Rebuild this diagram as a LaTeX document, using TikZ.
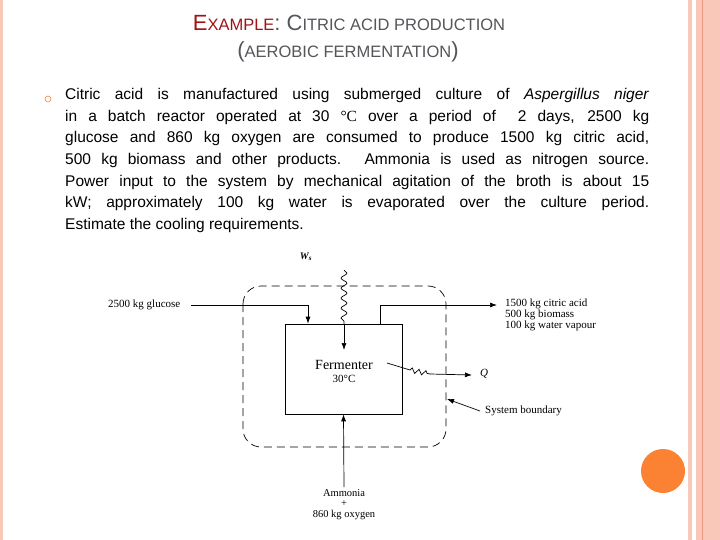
\documentclass[tikz,border=0pt]{standalone}
\usepackage{fontspec}
\setmainfont{Liberation Sans}
\newfontfamily\ser{Liberation Serif}
\usetikzlibrary{arrows.meta,decorations.pathmorphing}
\definecolor{pinkb}{RGB}{250,200,185}
\definecolor{pinkd}{RGB}{235,150,125}
\definecolor{darkred}{RGB}{160,20,20}
\definecolor{titleg}{RGB}{85,85,90}
\definecolor{orng}{RGB}{250,130,50}
\tikzset{
  lbl/.style={font=\ser\fontsize{11}{11.5}\selectfont, inner sep=0pt},
  flow/.style={line width=0.7pt,-{Latex[length=7pt,width=5pt]}},
  plain/.style={line width=0.7pt},
}
\begin{document}
\begin{tikzpicture}[x=1pt,y=-1pt]
\useasboundingbox (0,0) rectangle (720,540);
\fill[white] (0,0) rectangle (720,540);
% slide frame
\fill[pinkb] (0,0) rectangle (3,540);
\fill[pinkb] (688,0) rectangle (692,540);
\fill[pinkb] (696,0) rectangle (720,540);
\draw[pinkd,line width=0.8pt] (702,0) -- (702,540);
\fill[orng] (663,471) circle (22);
% title
\node[font=\fontsize{22}{26}\selectfont, inner sep=0pt] (t1) at (349,23) {\textcolor{darkred}{E\fontsize{16.5}{20}\selectfont XAMPLE}\textcolor{titleg}{: C\fontsize{16.5}{20}\selectfont ITRIC ACID PRODUCTION}};
\node[font=\fontsize{22}{26}\selectfont, inner sep=0pt, text=titleg] (t2) at (348,52) {(\fontsize{16.5}{20}\selectfont AEROBIC FERMENTATION\fontsize{22}{26}\selectfont)};
% bullet
\draw[orng,line width=0.6pt] (48,99) circle (3);
\node[anchor=north west, text width=584pt, align=justify, inner sep=0pt, font=\fontsize{15.5}{21.7}\selectfont] (para) at (65,88)
{Citric acid is manufactured using submerged culture of \textit{Aspergillus niger}\linebreak in a batch reactor operated at 30 {\ser °C} over a period of~ 2 days, 2500 kg\linebreak glucose and 860 kg oxygen are consumed to produce 1500 kg citric acid,\linebreak 500 kg biomass and other products. Ammonia is used as nitrogen source.\linebreak Power input to the system by mechanical agitation of the broth is about 15\linebreak kW; approximately 100 kg water is evaporated over the culture period.\linebreak Estimate the cooling requirements.};
% diagram
\draw[plain,dashed,dash pattern=on 8pt off 5pt,rounded corners=18pt] (243,286) rectangle (446,447);
\node[draw,line width=0.7pt,minimum width=117pt,minimum height=90pt,inner sep=0pt] (ferm) at (343.5,369) {};
\node[lbl,font=\ser\fontsize{14}{15}\selectfont] (fl) at (344,365) {Fermenter};
\node[lbl] (ft) at (344,379) {30°C};
\node[lbl,anchor=west] (glu) at (108,305) {2500 kg glucose};
\coordinate (g1) at (191,305);
\coordinate (g2) at (308,305);
\draw[flow] (g1) -- (g2) -- (g2 |- ferm.north);
\coordinate (o1) at (380,324);
\coordinate (o2) at (380,305);
\coordinate (o3) at (497,305);
\draw[flow] (o1) -- (o2) -- (o3);
\node[lbl,anchor=north west,align=left,font=\ser\fontsize{11}{10}\selectfont] (out) at (505,299) {1500 kg citric acid\\500 kg biomass\\100 kg water vapour};
\node[lbl,font=\ser\bfseries\itshape\fontsize{10}{11}\selectfont] (ws) at (306,257) {W\textsubscript{s}};
\coordinate (w1) at (344,270);
\coordinate (w2) at (344,324);
\coordinate (w3) at (344,350);
\draw[plain,decorate,decoration={snake,amplitude=3pt,segment length=10pt}] (w1) -- (w2);
\draw[flow] (w2) -- (w3);
\coordinate (q1) at (387,363);
\coordinate (q2) at (410,370);
\coordinate (q3) at (430,374);
\coordinate (q4) at (472,375);
\draw[plain] (q1) -- (q2);
\draw[plain,decorate,decoration={zigzag,amplitude=2.5pt,segment length=7pt}] (q2) -- (q3);
\draw[flow] (q3) -- (q4);
\node[lbl,font=\ser\itshape\fontsize{11}{11}\selectfont] (q) at (484,374) {Q};
\node[lbl,anchor=west] (sb) at (485,411) {System boundary};
\coordinate (sbt) at (447,399);
\draw[flow] (480,411) -- (sbt);
\coordinate (a1) at (344,487);
\draw[flow] (a1) -- (ferm.south);
\node[lbl,align=center,anchor=north,font=\ser\fontsize{10.5}{10.5}\selectfont] (amm) at (344,489) {Ammonia\\+\\860 kg oxygen};
\end{tikzpicture}
\end{document}
